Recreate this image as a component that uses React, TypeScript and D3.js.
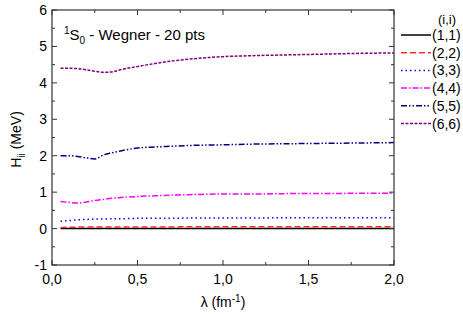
import React, { useRef, useEffect } from "react";
import * as d3 from "d3";

const lambdas = [0.05, 0.1, 0.15, 0.2, 0.25, 0.3, 0.35, 0.4, 0.5, 0.6, 0.7, 0.8, 1.0, 1.2, 1.4, 1.6, 1.8, 2.0];
const h11 = [0, 0, 0, 0, 0, 0, 0, 0, 0, 0, 0, 0, 0, 0, 0, 0, 0, 0];
const h22 = [0.03, 0.035, 0.04, 0.04, 0.04, 0.045, 0.045, 0.045, 0.045, 0.045, 0.045, 0.05, 0.05, 0.05, 0.05, 0.05, 0.05, 0.05];
const h33 = [0.2, 0.22, 0.24, 0.25, 0.26, 0.26, 0.27, 0.27, 0.28, 0.28, 0.28, 0.29, 0.29, 0.29, 0.3, 0.3, 0.3, 0.3];
const h44 = [0.74, 0.72, 0.7, 0.73, 0.77, 0.8, 0.83, 0.85, 0.88, 0.9, 0.92, 0.93, 0.95, 0.95, 0.96, 0.96, 0.97, 0.97];
const h55 = [2.0, 2.0, 1.98, 1.94, 1.91, 2.02, 2.08, 2.13, 2.21, 2.24, 2.26, 2.28, 2.3, 2.32, 2.33, 2.34, 2.35, 2.36];
const h66 = [4.4, 4.4, 4.39, 4.36, 4.32, 4.29, 4.3, 4.36, 4.45, 4.53, 4.6, 4.65, 4.72, 4.75, 4.77, 4.79, 4.81, 4.82];

const seriesNames = ["(1,1)", "(2,2)", "(3,3)", "(4,4)", "(5,5)", "(6,6)"];
const seriesValues = [h11, h22, h33, h44, h55, h66];
const colors = ["#000000", "#ff2a2a", "#0000ff", "#ff00ff", "#000080", "#800080"];
const dashes = ["none", "6,3", "1.5,3", "6,2,1.5,2", "6,2,1.5,2,1.5,2", "3,1.5"];
const widths = [1.5, 1.5, 1.5, 1.5, 1.5, 1.5];

const xTicks = [0, 0.5, 1.0, 1.5, 2.0];
const yTicks = [-1, 0, 1, 2, 3, 4, 5, 6];

export default function App() {
  const svgRef = useRef<SVGSVGElement>(null);

  useEffect(() => {
    const svg = d3.select(svgRef.current);
    svg.selectAll("*").remove();

    const margin = { left: 52, right: 69, top: 10, bottom: 49 };
    const W = 463, H = 314;
    const x = d3.scaleLinear().domain([0, 2]).range([margin.left, W - margin.right]);
    const y = d3.scaleLinear().domain([-1, 6]).range([H - margin.bottom, margin.top]);
    const font = "Liberation Sans, Arial, sans-serif";
    const axisColor = "#333";

    const g = svg.append("g");

    // series
    seriesValues.forEach((vals, k) => {
      const pts = lambdas.map((l, i) => [l, vals[i]] as [number, number]);
      const ln = d3.line<[number, number]>()
        .x((d) => x(d[0]))
        .y((d) => y(d[1]))
        .curve(d3.curveMonotoneX);
      g.append("path")
        .attr("d", ln(pts))
        .attr("fill", "none")
        .attr("stroke", colors[k])
        .attr("stroke-width", widths[k])
        .attr("stroke-dasharray", dashes[k]);
    });

    // frame
    g.append("rect")
      .attr("x", x(0)).attr("y", y(6))
      .attr("width", x(2) - x(0)).attr("height", y(-1) - y(6))
      .attr("fill", "none").attr("stroke", axisColor).attr("stroke-width", 1.2);

    // inward ticks on all four sides
    const xMinor = d3.range(0, 2.001, 0.25);
    xMinor.forEach((v) => {
      const major = Math.abs(v * 2 - Math.round(v * 2)) < 1e-6;
      const len = major ? 5 : 3;
      g.append("line").attr("x1", x(v)).attr("x2", x(v))
        .attr("y1", y(-1)).attr("y2", y(-1) - len).attr("stroke", axisColor);
      g.append("line").attr("x1", x(v)).attr("x2", x(v))
        .attr("y1", y(6)).attr("y2", y(6) + len).attr("stroke", axisColor);
    });
    const yMinor = d3.range(-1, 6.001, 0.5);
    yMinor.forEach((v) => {
      const major = Math.abs(v - Math.round(v)) < 1e-6;
      const len = major ? 5 : 3;
      g.append("line").attr("y1", y(v)).attr("y2", y(v))
        .attr("x1", x(0)).attr("x2", x(0) + len).attr("stroke", axisColor);
      g.append("line").attr("y1", y(v)).attr("y2", y(v))
        .attr("x1", x(2)).attr("x2", x(2) - len).attr("stroke", axisColor);
    });

    // tick labels
    g.selectAll(".xl").data(xTicks).enter().append("text")
      .attr("x", (d) => x(d)).attr("y", y(-1) + 19)
      .attr("text-anchor", "middle").attr("font-family", font).attr("font-size", 14)
      .text((d) => d.toFixed(1).replace(".", ","));
    g.selectAll(".yl").data(yTicks).enter().append("text")
      .attr("x", x(0) - 5).attr("y", (d) => y(d) + 5)
      .attr("text-anchor", "end").attr("font-family", font).attr("font-size", 14)
      .text((d) => String(d));

    // axis titles
    const xt = g.append("text").attr("x", (x(0) + x(2)) / 2).attr("y", 307)
      .attr("text-anchor", "middle").attr("font-family", font).attr("font-size", 14);
    xt.append("tspan").text("λ (fm");
    xt.append("tspan").attr("font-size", 10).attr("dy", -5).text("-1");
    xt.append("tspan").attr("dy", 5).text(")");

    const yt = g.append("text").attr("transform", `translate(21, ${(y(6) + y(-1)) / 2 + 2}) rotate(-90)`)
      .attr("text-anchor", "middle").attr("font-family", font).attr("font-size", 14);
    yt.append("tspan").text("H");
    yt.append("tspan").attr("font-size", 10).attr("dy", 4).text("ii");
    yt.append("tspan").attr("dy", -4).text(" (MeV)");

    // annotation
    const an = g.append("text").attr("x", 64).attr("y", 40)
      .attr("font-family", font).attr("font-size", 15);
    an.append("tspan").attr("font-size", 10).attr("dy", -6).text("1");
    an.append("tspan").attr("dy", 6).text("S");
    an.append("tspan").attr("font-size", 10).attr("dy", 4).text("0");
    an.append("tspan").attr("dy", -4).text(" - Wegner - 20 pts");

    // legend
    g.append("text").attr("x", 447).attr("y", 24).attr("text-anchor", "middle")
      .attr("font-family", font).attr("font-size", 13).text("(i,i)");
    seriesNames.forEach((name, k) => {
      const ly = 35 + k * 17.7;
      g.append("line").attr("x1", 401).attr("x2", 431).attr("y1", ly).attr("y2", ly)
        .attr("stroke", colors[k]).attr("stroke-width", widths[k])
        .attr("stroke-dasharray", dashes[k]);
      g.append("text").attr("x", 432).attr("y", ly + 5)
        .attr("font-family", font).attr("font-size", 14).text(name);
    });
  }, []);

  return (
    <svg ref={svgRef} width={463} height={314}
      style={{ position: "absolute", left: 0, top: 0, background: "#fff" }} />
  );
}
